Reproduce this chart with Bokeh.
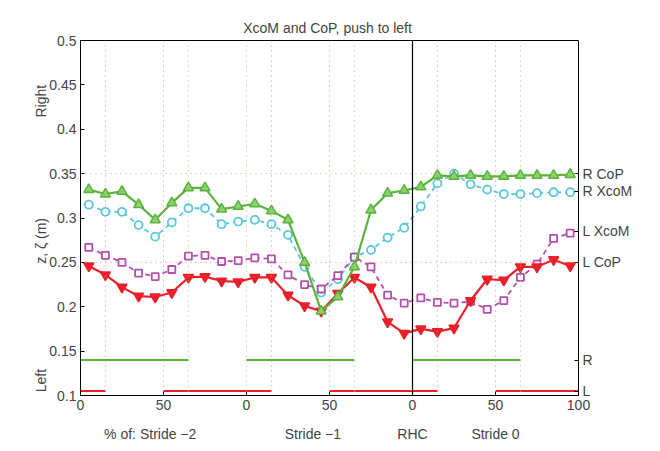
import numpy as np
from bokeh.plotting import figure
from bokeh.models import Span, FixedTicker, LinearAxis
from bokeh.embed import file_html
from bokeh.resources import INLINE

x = np.arange(5, 300, 10)
r_cop = [0.332, 0.327, 0.330, 0.315, 0.298, 0.317, 0.334, 0.334, 0.310, 0.313,
         0.316, 0.308, 0.298, 0.250, 0.195, 0.211, 0.245, 0.309, 0.328, 0.331,
         0.335, 0.348, 0.347, 0.348, 0.347, 0.347, 0.348, 0.348, 0.348, 0.349]
r_xcom = [0.315, 0.307, 0.307, 0.292, 0.279, 0.295, 0.311, 0.311, 0.293, 0.296,
          0.298, 0.293, 0.281, 0.245, 0.216, 0.231, 0.256, 0.264, 0.278, 0.289,
          0.313, 0.339, 0.350, 0.338, 0.332, 0.327, 0.327, 0.328, 0.329, 0.329]
l_xcom = [0.267, 0.258, 0.250, 0.238, 0.234, 0.242, 0.257, 0.258, 0.251, 0.252,
          0.255, 0.254, 0.236, 0.225, 0.220, 0.235, 0.256, 0.245, 0.213, 0.204,
          0.210, 0.205, 0.204, 0.206, 0.197, 0.207, 0.233, 0.248, 0.277, 0.283]
l_cop = [0.246, 0.236, 0.222, 0.212, 0.211, 0.216, 0.233, 0.234, 0.229, 0.228,
         0.233, 0.233, 0.213, 0.201, 0.195, 0.215, 0.233, 0.222, 0.183, 0.170,
         0.175, 0.172, 0.176, 0.207, 0.231, 0.230, 0.245, 0.245, 0.253, 0.246]

r_stance = [(0, 65), (100, 165), (200, 265)]
l_stance = [(0, 15), (50, 115), (150, 215), (250, 300)]
red_events = [15, 50, 115, 150, 215, 250]
green_events = [65, 100, 165, 200, 265]

right_labels = {0.35: "R CoP", 0.33: "R XcoM", 0.285: "L XcoM", 0.25: "L CoP", 0.14: "R", 0.105: "L"}
side_labels = {0.45: "Right", 0.30: "z, ζ (m)", 0.13: "Left"}
bottom_labels = {42: "% of: Stride −2", 140: "Stride −1", 200: "RHC", 250: "Stride 0"}

GREEN = "#5ab43c"
RED = "#e8202a"
CYAN = "#5ac8dc"
MAG = "#b450aa"
FONT = "Liberation Sans"

p = figure(frame_width=498, frame_height=355, x_range=(0, 300), y_range=(0.1, 0.5),
           output_backend="svg", toolbar_location=None,
           min_border_left=80, min_border_right=0, min_border_top=40, min_border_bottom=0)
p.title.text = "XcoM and CoP,  push to left"
p.title.align = "center"
p.title.text_font = FONT
p.title.text_font_style = "normal"
p.title.text_font_size = "14px"
p.grid.visible = False
p.outline_line_color = "black"

p.xaxis.ticker = FixedTicker(ticks=[0, 50, 100, 150, 200, 250, 300])
p.xaxis.major_label_overrides = {0: "0", 50: "50", 100: "0", 150: "50", 200: "0", 250: "50", 300: "100"}
p.yaxis.ticker = FixedTicker(ticks=list(np.round(np.arange(0.1, 0.51, 0.05), 2)))

ax_r = LinearAxis(ticker=FixedTicker(ticks=list(right_labels)), major_label_overrides=right_labels)
p.add_layout(ax_r, "right")
ax_s = LinearAxis(ticker=FixedTicker(ticks=list(side_labels)), major_label_overrides=side_labels,
                  major_label_orientation=np.pi / 2)
p.add_layout(ax_s, "left")
ax_b = LinearAxis(ticker=FixedTicker(ticks=list(bottom_labels)), major_label_overrides=bottom_labels)
p.add_layout(ax_b, "below")

for ax in p.axis:
    ax.major_label_text_font_size = "14px"
    ax.major_label_text_font = FONT
    ax.major_tick_in = 4
    ax.major_tick_out = 0
    ax.minor_tick_line_color = None
    ax.major_label_standoff = 4
for ax in (ax_s, ax_b):
    ax.axis_line_color = None
    ax.major_tick_line_color = None
ax_s.major_label_standoff = 6
ax_b.major_label_standoff = 13
ax_r.axis_line_color = None

for e in red_events:
    p.add_layout(Span(location=e, dimension="height", line_color="#f08080", line_dash="1 4", line_width=1))
for e in green_events:
    p.add_layout(Span(location=e, dimension="height", line_color="#90d070", line_dash="1 4", line_width=1))
p.add_layout(Span(location=0.35, dimension="width", line_color="#90d070", line_dash="1 4"))
p.add_layout(Span(location=0.25, dimension="width", line_color="#f08080", line_dash="1 4"))
p.add_layout(Span(location=200, dimension="height", line_color="black", line_width=1.2))

for a, b in r_stance:
    p.line([a, b], [0.14, 0.14], line_color=GREEN, line_width=2)
for a, b in l_stance:
    p.line([a, b], [0.105, 0.105], line_color=RED, line_width=2)

p.line(x, r_xcom, line_color=CYAN, line_width=1.8, line_dash="5 4")
p.scatter(x, r_xcom, marker="circle", size=8, line_color=CYAN, fill_color="white", line_width=1.8)
p.line(x, l_xcom, line_color=MAG, line_width=1.8, line_dash="5 4")
p.scatter(x, l_xcom, marker="square", size=7, line_color=MAG, fill_color="white", line_width=1.8)
p.line(x, l_cop, line_color=RED, line_width=2.2)
p.scatter(x, l_cop, marker="inverted_triangle", size=10, line_color=RED, fill_color=RED, line_width=1.5)
p.line(x, r_cop, line_color=GREEN, line_width=2.2)
p.scatter(x, r_cop, marker="triangle", size=10, line_color=GREEN, fill_color="#8cd070", line_width=1.5)

open("out.html", "w").write(file_html(p, INLINE))
